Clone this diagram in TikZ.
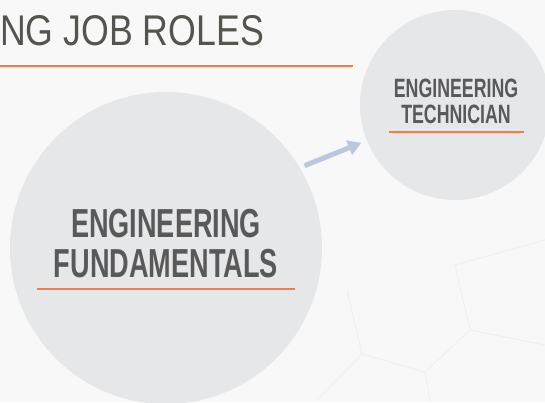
\documentclass[tikz,border=0pt]{standalone}
\usepackage{fontspec}
\usetikzlibrary{arrows.meta}
\newfontfamily\titlefont[FakeStretch=0.83]{Liberation Sans}
\newfontfamily\condfont[FakeStretch=0.67]{Liberation Sans}
\definecolor{bg}{HTML}{F8F8F8}
\definecolor{circ}{HTML}{E6E7E9}
\definecolor{accent}{HTML}{F47B4C}
\definecolor{txt}{HTML}{595959}
\definecolor{ttl}{HTML}{55554F}
\definecolor{arr}{HTML}{B9C8DD}
\definecolor{hexline}{HTML}{F0F0F0}
\tikzset{
  bubble/.style={circle, fill=circ, inner sep=0pt},
  bigtxt/.style={anchor=base, inner sep=0pt, text=txt, font=\condfont\bfseries\fontsize{40.5}{40}\selectfont},
  smalltxt/.style={anchor=base, inner sep=0pt, text=txt, font=\condfont\bfseries\fontsize{26.5}{26}\selectfont},
  underl/.style={accent, line cap=butt},
  flowarrow/.style={arr, line width=5pt, -{Triangle[width=15pt,length=13pt]}},
}
\begin{document}
\begin{tikzpicture}[x=1pt,y=-1pt]
\useasboundingbox (0,0) rectangle (545,402);
\clip (0,0) rectangle (545,402);
\fill[bg] (0,0) rectangle (545,402);
% faint background facets
\draw[hexline, line width=1pt] (347,290) -- (362,354) -- (425,372) -- (470,330) -- (455,265);
\draw[hexline, line width=1pt] (362,354) -- (317,400);
\draw[hexline, line width=1pt] (425,372) -- (430,402);
\draw[hexline, line width=1pt] (470,330) -- (545,345);
\draw[hexline, line width=1pt] (455,265) -- (545,240);
% title
\node[anchor=base west, inner sep=0pt, text=ttl, font=\titlefont\fontsize{43}{43}\selectfont] (title) at (0,45) {NG JOB ROLES};
\draw[underl, line width=2pt] (0,66) -- (353,66);
% circles
\node[bubble, minimum size=312pt] (big) at (166,248) {};
\node[bubble, minimum size=190pt] (small) at (455,105) {};
% big circle text
\node[bigtxt] (big1) at (166,237) {ENGINEERING};
\node[bigtxt] (big2) at (166,277) {FUNDAMENTALS};
\draw[underl, line width=2.5pt] (37,289) -- (295,289);
% small circle text
\node[smalltxt] (small1) at (456,97) {ENGINEERING};
\node[smalltxt] (small2) at (456,123) {TECHNICIAN};
\draw[underl, line width=2pt] (389,132) -- (524,132);
% arrow
\draw[flowarrow, shorten <=5pt, shorten >=6pt] (big.31.8) -- (small.202);
\end{tikzpicture}
\end{document}
